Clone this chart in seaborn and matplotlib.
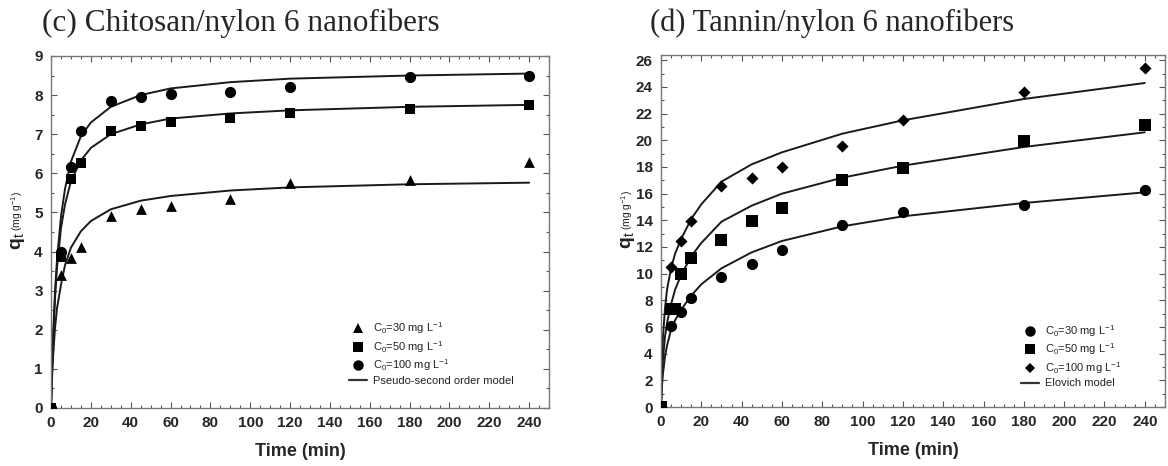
import matplotlib
matplotlib.use('Agg')
import matplotlib.pyplot as plt
from matplotlib.lines import Line2D
from matplotlib.ticker import MultipleLocator
import seaborn as sns

# observed points (time in min, q_t in mg/g)
t_obs = [0, 5, 10, 15, 30, 45, 60, 90, 120, 180, 240]

chi_30 = [0, 3.40, 3.84, 4.12, 4.90, 5.10, 5.17, 5.34, 5.76, 5.83, 6.30]
chi_50 = [0, 3.86, 5.86, 6.27, 7.07, 7.20, 7.32, 7.42, 7.53, 7.65, 7.75]
chi_100 = [0, 4.00, 6.17, 7.09, 7.84, 7.94, 8.03, 8.08, 8.20, 8.46, 8.50]

t_tan_50 = [0, 5, 7, 10, 15, 30, 45, 60, 90, 120, 180, 240]
tan_30 = [0, 6.10, 7.10, 8.20, 9.75, 10.70, 11.75, 13.65, 14.60, 15.15, 16.25]
tan_50 = [0, 7.35, 7.35, 10.00, 11.15, 12.50, 13.95, 14.95, 17.05, 17.95, 19.95, 21.15]
tan_100 = [0, 10.50, 12.45, 13.95, 16.55, 17.20, 18.00, 19.60, 21.55, 23.65, 25.45]

# model curves
t_fit = [0, 0.5, 1, 2, 3, 5, 7, 10, 15, 20, 30, 45, 60, 90, 120, 180, 240]

pso_30 = [0, 0.75, 1.3, 2.05, 2.55, 3.15, 3.65, 4.1, 4.52, 4.78, 5.08, 5.3, 5.42, 5.56, 5.64, 5.72, 5.76]
pso_50 = [0, 0.95, 1.7, 2.8, 3.6, 4.6, 5.2, 5.8, 6.33, 6.65, 7.0, 7.25, 7.4, 7.53, 7.61, 7.7, 7.75]
pso_100 = [0, 1.0, 1.8, 3.0, 3.8, 4.9, 5.6, 6.3, 6.95, 7.3, 7.7, 8.0, 8.17, 8.33, 8.42, 8.5, 8.55]

elo_30 = [0, 1.6, 2.5, 3.8, 4.6, 5.8, 6.5, 7.3, 8.35, 9.2, 10.4, 11.6, 12.45, 13.55, 14.3, 15.3, 16.1]
elo_50 = [0, 2.3, 3.6, 5.3, 6.3, 7.7, 8.8, 9.9, 11.3, 12.3, 13.9, 15.1, 16.0, 17.2, 18.1, 19.5, 20.6]
elo_100 = [0, 3.5, 5.3, 7.4, 8.8, 10.4, 11.5, 12.6, 14.1, 15.2, 16.9, 18.2, 19.1, 20.5, 21.5, 23.1, 24.3]

labels_c0 = ['C$_0$=30 mg L$^{-1}$', 'C$_0$=50 mg L$^{-1}$', 'C$_0$=100 mg L$^{-1}$']

sns.set_style('ticks')
plt.rcParams['font.family'] = ['Liberation Sans', 'DejaVu Sans']
plt.rcParams['mathtext.fontset'] = 'custom'
plt.rcParams['mathtext.rm'] = 'Liberation Sans'
plt.rcParams['mathtext.bf'] = 'Liberation Sans:bold'
plt.rcParams['mathtext.it'] = 'Liberation Sans:italic'

fig = plt.figure(figsize=(11.68, 4.66), dpi=100)
ax1 = fig.add_axes([0.0437, 0.1245, 0.4264, 0.7554])
ax2 = fig.add_axes([0.5659, 0.1266, 0.4315, 0.7554])

line_kw = dict(color='#1a1a1a', linewidth=1.4, sort=False, estimator=None)
pt_kw = dict(color='black', edgecolor='black', linewidth=0, zorder=3)

# (c) chitosan
for y in [pso_30, pso_50, pso_100]:
    sns.lineplot(x=t_fit, y=y, ax=ax1, **line_kw)
sns.scatterplot(x=t_obs, y=chi_30, marker='^', s=60, ax=ax1, **pt_kw)
sns.scatterplot(x=t_obs, y=chi_50, marker='s', s=60, ax=ax1, **pt_kw)
sns.scatterplot(x=t_obs, y=chi_100, marker='o', s=65, ax=ax1, **pt_kw)

# (d) tannin
for y in [elo_30, elo_50, elo_100]:
    sns.lineplot(x=t_fit, y=y, ax=ax2, **line_kw)
sns.scatterplot(x=t_obs, y=tan_30, marker='o', s=65, ax=ax2, **pt_kw)
sns.scatterplot(x=t_tan_50, y=tan_50, marker='s', s=65, ax=ax2, **pt_kw)
sns.scatterplot(x=t_obs, y=tan_100, marker='D', s=38, ax=ax2, **pt_kw)

for ax, ytop, ymaj, ymin in [(ax1, 9, 1, 0.5), (ax2, 26.4, 2, 1)]:
    ax.set_xlim(0, 250)
    ax.set_ylim(0, ytop)
    ax.xaxis.set_major_locator(MultipleLocator(20))
    ax.xaxis.set_minor_locator(MultipleLocator(5))
    ax.yaxis.set_major_locator(MultipleLocator(ymaj))
    ax.yaxis.set_minor_locator(MultipleLocator(ymin))
    ax.set_xticks(range(0, 241, 20))
    ax.tick_params(which='both', direction='in', top=True, right=True,
                   color='#555555', width=0.8, labelsize=11, pad=6)
    ax.tick_params(which='major', length=4)
    ax.tick_params(which='minor', length=2)
    for sp in ax.spines.values():
        sp.set_color('#777777')
        sp.set_linewidth(1.0)
    plt.setp(ax.get_xticklabels() + ax.get_yticklabels(), fontweight='bold')
    ax.set_xlabel('Time (min)', fontsize=13, fontweight='bold', labelpad=9)
    ax.set_ylabel('')
    # y label: bold q_t followed by small units
    ax.text(-0.066, 0.475, r'$\mathbf{q}_{\mathrm{t}}$', transform=ax.transAxes,
            rotation=90, ha='center', va='center', fontsize=14, color='#222222')
    ax.text(-0.068, 0.56, '(mg g$^{-1}$)', transform=ax.transAxes,
            rotation=90, ha='center', va='center', fontsize=7.5, color='#222222')

fig.text(42 / 1168, 1 - 23 / 466, '(c) Chitosan/nylon 6 nanofibers',
         family='Liberation Serif', fontsize=22.5, ha='left', va='center')
fig.text(650 / 1168, 1 - 23 / 466, '(d) Tannin/nylon 6 nanofibers',
         family='Liberation Serif', fontsize=22, ha='left', va='center')

def legend_for(ax, markers, sizes, model_label, anchor):
    handles = [Line2D([], [], linestyle='none', marker=m, markersize=ms,
                      color='black', markeredgewidth=0) for m, ms in zip(markers, sizes)]
    handles.append(Line2D([], [], color='#333333', linewidth=1.6))
    leg = ax.legend(handles, labels_c0 + [model_label], loc='lower left',
                    bbox_to_anchor=anchor, frameon=False, fontsize=8,
                    handlelength=1.6, handletextpad=0.55, labelspacing=0.25,
                    borderaxespad=0)
    for txt in leg.get_texts():
        txt.set_color('#222222')

legend_for(ax1, ['^', 's', 'o'], [7, 7, 7.5], 'Pseudo-second order model', (0.59, 0.05))
legend_for(ax2, ['o', 's', 'D'], [7.5, 7.5, 5.5], 'Elovich model', (0.705, 0.04))

fig.savefig('out.png', dpi=100)
